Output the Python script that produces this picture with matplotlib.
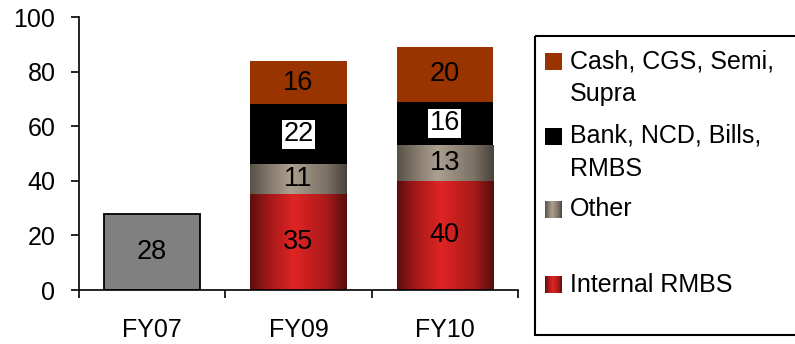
import numpy as np
import matplotlib.pyplot as plt
from matplotlib.colors import LinearSegmentedColormap
from matplotlib.patches import Rectangle

plt.rcParams['font.family'] = ['Liberation Sans', 'DejaVu Sans']

categories = ['FY07', 'FY09', 'FY10']
fy07_total = [28, 0, 0]
internal_rmbs = [0, 35, 40]
other = [0, 11, 13]
bank_ncd = [0, 22, 16]
cash_cgs = [0, 16, 20]

legend_labels = [['Cash, CGS, Semi,', 'Supra'], ['Bank, NCD, Bills,', 'RMBS'],
                 ['Other'], ['Internal RMBS']]

FS = 18
FS_BAR = 19.5
BAR_W = 0.66

# horizontal "cylinder" shading for the gradient series
red_cmap = LinearSegmentedColormap.from_list(
    'red_cyl', [(0, '#5c0e0e'), (0.18, '#a01818'), (0.45, '#e02424'),
                (0.8, '#a81a1a'), (1, '#560c0c')])
other_cmap = LinearSegmentedColormap.from_list(
    'other_cyl', [(0, '#575146'), (0.2, '#84796c'), (0.42, '#aca090'),
                  (0.8, '#7a7064'), (1, '#48433b')])
grad = np.linspace(0, 1, 256).reshape(1, -1)


def shade(ax, bars, cmap):
    for b in bars:
        if b.get_height() <= 0:
            continue
        x0, y0 = b.get_x(), b.get_y()
        im = ax.imshow(grad, cmap=cmap, aspect='auto', interpolation='bilinear',
                       extent=(x0, x0 + b.get_width(), y0, y0 + b.get_height()),
                       zorder=b.get_zorder() + 0.1)
        im.set_clip_path(b)


def label(ax, bars, vals, boxed=False):
    for b, v in zip(bars, vals):
        if v <= 0:
            continue
        kw = {}
        if boxed:
            kw['bbox'] = dict(facecolor='white', edgecolor='none', pad=1.0)
        ax.text(b.get_x() + b.get_width() / 2, b.get_y() + b.get_height() / 2,
                str(v), ha='center', va='center', fontsize=FS_BAR, color='black',
                zorder=5, **kw)


fig = plt.figure(figsize=(7.95, 3.44), dpi=100)
ax = fig.add_axes([79 / 795, 1 - 290 / 344, 439 / 795, 273 / 344])

x = np.arange(len(categories))
base = np.zeros(len(categories))

first = ax.bar(x[:1], fy07_total[:1], width=BAR_W, color='#808080',
               edgecolor='black', linewidth=1.3, zorder=2)
label(ax, first, fy07_total[:1])

series = [(internal_rmbs, '#d02020', red_cmap, False),
          (other, '#9a8e80', other_cmap, False),
          (bank_ncd, '#000000', None, True),
          (cash_cgs, '#993300', None, False)]
for vals, col, cmap, boxed in series:
    v = np.array(vals)
    bars = ax.bar(x[1:], v[1:], bottom=base[1:], width=BAR_W, color=col,
                  linewidth=0, zorder=2)
    if cmap is not None:
        shade(ax, bars, cmap)
    label(ax, bars, vals[1:], boxed)
    base += v

ax.set_xlim(-0.5, 2.5)
ax.set_ylim(0, 100)
ax.set_yticks(range(0, 101, 20))
ax.set_xticks(x)
ax.set_xticklabels(categories)
ax.set_xticks([-0.5, 0.5, 1.5, 2.5], minor=True)
ax.tick_params(axis='x', which='major', length=0, pad=20, labelsize=FS)
ax.tick_params(axis='x', which='minor', length=6, width=1.2, direction='out')
ax.tick_params(axis='y', length=6, width=1.2, pad=11, labelsize=FS)
for s in ['top', 'right']:
    ax.spines[s].set_visible(False)
for s in ['left', 'bottom']:
    ax.spines[s].set_linewidth(1.2)

# legend panel, laid out in pixel units
lax = fig.add_axes([535 / 795, 1 - 335 / 344, 260 / 795, 299 / 344])
lax.set_xlim(0, 260)
lax.set_ylim(299, 0)
lax.axis('off')
lax.add_patch(Rectangle((0, 0), 275, 299, fill=False, edgecolor='black',
                        linewidth=1.5, clip_on=False))
patch_y = [25, 100, 173.5, 248.5]
fills = ['#993300', '#000000', other_cmap, red_cmap]
for py, fill, lines in zip(patch_y, fills, legend_labels):
    if isinstance(fill, str):
        lax.add_patch(Rectangle((10, py - 8.5), 17, 17, facecolor=fill,
                                edgecolor='none'))
    else:
        lax.imshow(grad, cmap=fill, aspect='auto', interpolation='bilinear',
                   extent=(10, 27, py + 8.5, py - 8.5))
    for i, line in enumerate(lines):
        lax.text(35, py + i * 33, line, ha='left', va='center', fontsize=FS)
lax.set_xlim(0, 260)
lax.set_ylim(299, 0)

fig.savefig('out.png', dpi=100)
